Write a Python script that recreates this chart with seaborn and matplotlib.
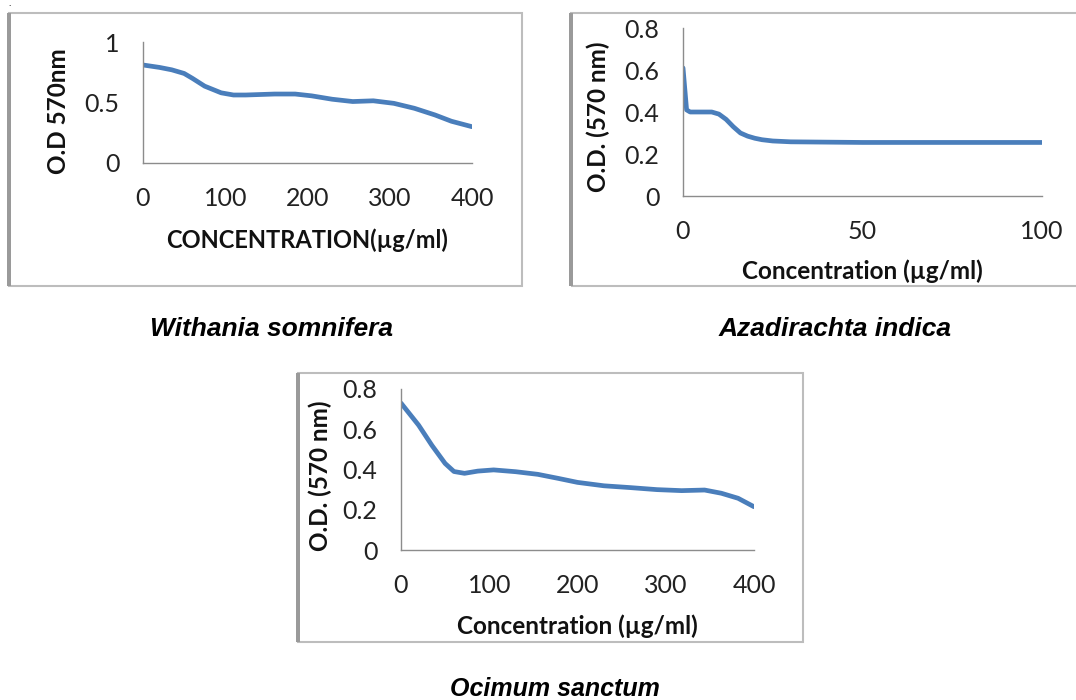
import matplotlib
matplotlib.use("Agg")
import matplotlib.pyplot as plt
from matplotlib.patches import Rectangle
import seaborn as sns
import pandas as pd

# ---- data ----
withania_conc = [0, 20, 35, 50, 60, 75, 95, 110, 125, 160, 185, 205, 230, 255, 280, 305, 330, 355, 375, 400]
withania_od = [0.81, 0.79, 0.77, 0.74, 0.70, 0.635, 0.58, 0.562, 0.562, 0.57, 0.57, 0.555, 0.527, 0.508, 0.514, 0.493, 0.452, 0.397, 0.345, 0.30]

azadirachta_conc = [0, 1, 2, 5, 8, 10, 12, 14, 16, 18, 20, 22, 25, 30, 50, 100]
azadirachta_od = [0.61, 0.41, 0.40, 0.40, 0.40, 0.39, 0.365, 0.33, 0.30, 0.285, 0.275, 0.268, 0.262, 0.258, 0.255, 0.255]

ocimum_conc = [0, 20, 35, 50, 60, 72, 87, 105, 130, 155, 178, 200, 230, 260, 290, 318, 344, 363, 382, 400]
ocimum_od = [0.73, 0.62, 0.52, 0.43, 0.39, 0.381, 0.392, 0.398, 0.389, 0.376, 0.356, 0.336, 0.319, 0.310, 0.300, 0.295, 0.298, 0.282, 0.257, 0.215]

titles = ["Withania somnifera", "Azadirachta indica", "Ocimum sanctum"]
xlabels = ["CONCENTRATION(\u00b5g/ml)", "Concentration (\u00b5g/ml)", "Concentration (\u00b5g/ml)"]
ylabels = ["O.D 570nm", "O.D. (570 nm)", "O.D. (570 nm)"]
xticks_list = [[0, 100, 200, 300, 400], [0, 50, 100], [0, 100, 200, 300, 400]]
yticks_list = [[0, 0.5, 1], [0, 0.2, 0.4, 0.6, 0.8], [0, 0.2, 0.4, 0.6, 0.8]]
yticklabels_list = [["0", "0.5", "1"], ["0", "0.2", "0.4", "0.6", "0.8"], ["0", "0.2", "0.4", "0.6", "0.8"]]

sns.set_style("white")
plt.rcParams["font.family"] = ["Lato", "DejaVu Sans"]

W, H = 1076, 700
fig = plt.figure(figsize=(W / 100, H / 100), dpi=100)

def fx(px):
    return px / W

def fy(py):
    return 1 - py / H

# frames around each panel (pixel boxes: left, top, right, bottom)
frames = [(9, 13, 522, 286), (571, 13, 1080, 286), (298, 373, 803, 642)]
for (l, t, r, b) in frames:
    fig.patches.append(Rectangle((fx(l), fy(b)), fx(r - l), (b - t) / H,
                                 transform=fig.transFigure, fill=False,
                                 edgecolor="#bdbdbd", linewidth=1.5))
    fig.patches.append(Rectangle((fx(l) - 0.0015, fy(b)), 0.003, (b - t) / H,
                                 transform=fig.transFigure, fill=True,
                                 facecolor="#9a9a9a", edgecolor="none"))

# axes boxes (pixel: left, top, right, bottom)
boxes = [(143, 42, 472, 163), (683, 28, 1042, 196), (401, 389, 754, 550)]
ylims = [(0, 1), (0, 0.8), (0, 0.8)]
xlims = [(0, 400), (0, 100), (0, 400)]
ylabel_pos = [(-0.222, 0.426), (-0.203, 0.473), (-0.195, 0.46)]
xlabel_pos = [(0.498, -0.54), (0.4986, -0.375), (0.5, -0.398)]
xlabel_size = [17, 17.5, 17.5]

dfs = [
    pd.DataFrame({"conc": withania_conc, "od": withania_od}),
    pd.DataFrame({"conc": azadirachta_conc, "od": azadirachta_od}),
    pd.DataFrame({"conc": ocimum_conc, "od": ocimum_od}),
]

for i, df in enumerate(dfs):
    l, t, r, b = boxes[i]
    ax = fig.add_axes([fx(l), fy(b), (r - l) / W, (b - t) / H])
    ax.set_facecolor("none")
    sns.lineplot(data=df, x="conc", y="od", ax=ax, color="#4A7EBB",
                 linewidth=3.4, solid_capstyle="round", solid_joinstyle="round")
    ax.set_xlim(*xlims[i])
    ax.set_ylim(*ylims[i])
    ax.set_xticks(xticks_list[i])
    ax.set_xticklabels([str(v) for v in xticks_list[i]])
    ax.set_yticks(yticks_list[i])
    ax.set_yticklabels(yticklabels_list[i])
    for s in ["top", "right"]:
        ax.spines[s].set_visible(False)
    for s in ["left", "bottom"]:
        ax.spines[s].set_color("#8c8c8c")
        ax.spines[s].set_linewidth(1.0)
    ax.tick_params(axis="both", which="major", direction="out", length=6,
                   width=1.0, color="#8c8c8c", labelsize=18, labelcolor="#222222")
    ax.tick_params(axis="x", pad=11)
    ax.tick_params(axis="y", pad=11)
    ax.set_xlabel(xlabels[i], fontsize=xlabel_size[i], fontweight="bold", color="#111111")
    ax.set_ylabel(ylabels[i], fontsize=17.5, fontweight="bold", color="#111111")
    ax.yaxis.set_label_coords(*ylabel_pos[i])
    ax.xaxis.set_label_coords(*xlabel_pos[i])
    ax.grid(False)

# captions
cap_pos = [(272, 329), (835, 329), (554.5, 689)]
cap_size = [19, 19, 18]
for (cx, cy), title, fs in zip(cap_pos, titles, cap_size):
    fig.text(fx(cx), fy(cy), title, ha="center", va="center", fontsize=fs,
             fontweight="bold", fontstyle="italic", color="black",
             family=["Liberation Sans", "DejaVu Sans"])

fig.text(fx(10), fy(1), ".", ha="center", va="top", fontsize=6,
         family=["Liberation Sans", "DejaVu Sans"], fontweight="bold")

fig.savefig("out.png", dpi=100)
